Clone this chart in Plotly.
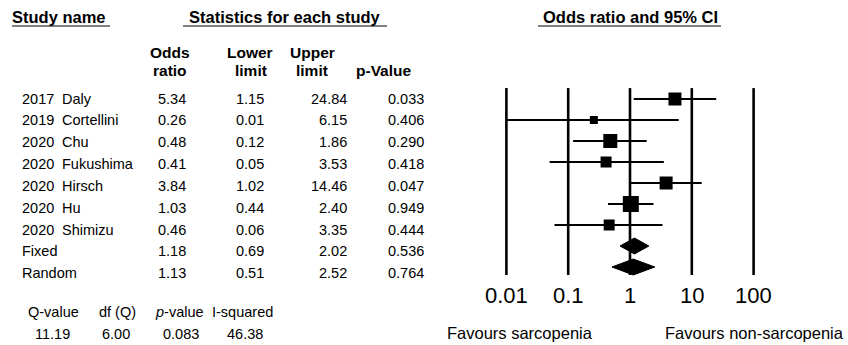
import numpy as np
import plotly.graph_objects as go

# ---------------- data ----------------
years = ["2017", "2019", "2020", "2020", "2020", "2020", "2020"]
names = ["Daly", "Cortellini", "Chu", "Fukushima", "Hirsch", "Hu", "Shimizu"]
odds = [5.34, 0.26, 0.48, 0.41, 3.84, 1.03, 0.46]
lower = [1.15, 0.01, 0.12, 0.05, 1.02, 0.44, 0.06]
upper = [24.84, 6.15, 1.86, 3.53, 14.46, 2.40, 3.35]
pvals = [0.033, 0.406, 0.290, 0.418, 0.047, 0.949, 0.444]
box_px = [13, 8, 14, 11, 13, 16, 11]  # square size ~ study weight

summ_names = ["Fixed", "Random"]
summ_odds = [1.18, 1.13]
summ_lower = [0.69, 0.51]
summ_upper = [2.02, 2.52]
summ_p = [0.536, 0.764]

het_labels = ["Q-value", "df (Q)", "<i>p</i>-value", "I-squared"]
het_values = ["11.19", "6.00", "0.083", "46.38"]

tick_vals = [0.01, 0.1, 1, 10, 100]
tick_text = ["0.01", "0.1", "1", "10", "100"]

FONT = "Liberation Sans, Arial, sans-serif"
W, H = 848, 345

fig = go.Figure()

# ---------------- forest plot (x, y) ----------------
n = len(names)
rows = list(range(n))
summ_rows = [n, n + 1]

# vertical reference lines
vx, vy = [], []
for t in tick_vals:
    vx += [t, t, None]
    vy += [-0.52, 8.38, None]
fig.add_trace(go.Scatter(x=vx, y=vy, mode="lines", line=dict(color="black", width=2.6),
                         hoverinfo="skip", showlegend=False))

# CI lines
cx, cy = [], []
for r, lo, hi in zip(rows, lower, upper):
    cx += [lo, hi, None]
    cy += [r, r, None]
fig.add_trace(go.Scatter(x=cx, y=cy, mode="lines", line=dict(color="black", width=2),
                         hoverinfo="skip", showlegend=False))

# squares
fig.add_trace(go.Scatter(x=odds, y=rows, mode="markers", opacity=1,
                         marker=dict(symbol="square", size=box_px, color="#000000", opacity=1,
                                     line=dict(width=0, color="#000000")),
                         showlegend=False))

# diamonds
h = 0.38
for r, e, lo, hi in zip(summ_rows, summ_odds, summ_lower, summ_upper):
    fig.add_trace(go.Scatter(x=[lo, e, hi, e, lo], y=[r, r - h, r, r + h, r], mode="lines",
                             fill="toself", fillcolor="black", line=dict(color="black", width=1),
                             hoverinfo="skip", showlegend=False))

ann = []
# tick labels
for v, t in zip(tick_vals, tick_text):
    ann.append(dict(x=np.log10(v), y=9.38, xref="x", yref="y", text=t, showarrow=False,
                    font=dict(size=22, color="black", family=FONT), xanchor="center", yanchor="middle"))

# ---------------- table (x2, y2: pixel-like layout axes) ----------------
row0, step = 98.5, 21.85
def ty(i):
    return row0 + i * step

tf = dict(size=14.5, color="black", family=FONT)
for i in range(n):
    y = ty(i)
    ann.append(dict(x=20, y=y, text=years[i], xanchor="left"))
    ann.append(dict(x=60, y=y, text=names[i], xanchor="left"))
    ann.append(dict(x=188, y=y, text=f"{odds[i]:.2f}", xanchor="right"))
    ann.append(dict(x=266, y=y, text=f"{lower[i]:.2f}", xanchor="right"))
    ann.append(dict(x=349, y=y, text=f"{upper[i]:.2f}", xanchor="right"))
    ann.append(dict(x=426, y=y, text=f"{pvals[i]:.3f}", xanchor="right"))
for j in range(2):
    y = ty(n + j)
    ann.append(dict(x=20, y=y, text=summ_names[j], xanchor="left"))
    ann.append(dict(x=188, y=y, text=f"{summ_odds[j]:.2f}", xanchor="right"))
    ann.append(dict(x=266, y=y, text=f"{summ_lower[j]:.2f}", xanchor="right"))
    ann.append(dict(x=349, y=y, text=f"{summ_upper[j]:.2f}", xanchor="right"))
    ann.append(dict(x=426, y=y, text=f"{summ_p[j]:.3f}", xanchor="right"))

# headers
bigf = dict(size=16.5, color="black", family=FONT)
for x, y, t in [(58.5, 17, "Study name"), (285, 17, "Statistics for each study"),
                (630, 17, "Odds ratio and 95% CI")]:
    ann.append(dict(x=x, y=y, text=f"<b>{t}</b>", xanchor="center", font=bigf))
hf = dict(size=15.5, color="black", family=FONT)
for x, y, t in [(170, 52, "Odds"), (170, 70, "ratio"),
                (250, 52, "Lower"), (251, 70, "limit"),
                (312, 52, "Upper"), (312, 70, "limit"),
                (384, 70, "p-Value")]:
    ann.append(dict(x=x, y=y, text=f"<b>{t}</b>", xanchor="center", font=hf))

# favours labels
ff = dict(size=16.5, color="black", family=FONT)
ann.append(dict(x=520, y=333, text="Favours sarcopenia", xanchor="center", font=ff))
ann.append(dict(x=754, y=333, text="Favours non-sarcopenia", xanchor="center", font=ff))

# heterogeneity
sf = dict(size=14.5, color="black", family=FONT)
for x, t in zip([53, 117.5, 179, 242], het_labels):
    ann.append(dict(x=x, y=312, text=t, xanchor="center", font=sf))
for x, t in zip([52, 116, 181, 245], het_values):
    ann.append(dict(x=x, y=334, text=t, xanchor="center", font=sf))

for a in ann:
    a.setdefault("xref", "x2")
    a.setdefault("yref", "y2")
    a.setdefault("showarrow", False)
    a.setdefault("font", tf)
    a.setdefault("yanchor", "middle")

shapes = []
for x0, x1 in [(12, 110), (183, 387), (538, 721)]:
    shapes.append(dict(type="line", xref="x2", yref="y2", x0=x0, x1=x1, y0=26, y1=26,
                       line=dict(color="black", width=1.2)))

# dummy trace to activate x2/y2
fig.add_trace(go.Scatter(x=[None], y=[None], xaxis="x2", yaxis="y2", showlegend=False))

p1 = 630 - 3 * 61.8
p2 = 630 + 3.5 * 61.8
fig.update_layout(
    width=W, height=H, margin=dict(l=0, r=0, t=0, b=0),
    paper_bgcolor="white", plot_bgcolor="rgba(0,0,0,0)",
    showlegend=False,
    xaxis=dict(type="log", range=[-3, 3.5], domain=[p1 / W, p2 / W], visible=False, fixedrange=True),
    yaxis=dict(range=[(H - 99) / 21, -99 / 21], domain=[0, 1], visible=False, fixedrange=True),
    xaxis2=dict(range=[0, W], domain=[0, 1], anchor="y2", visible=False, fixedrange=True),
    yaxis2=dict(range=[H, 0], domain=[0, 1], anchor="x2", visible=False, fixedrange=True),
    annotations=ann, shapes=shapes,
)

fig.write_html("out.html")
